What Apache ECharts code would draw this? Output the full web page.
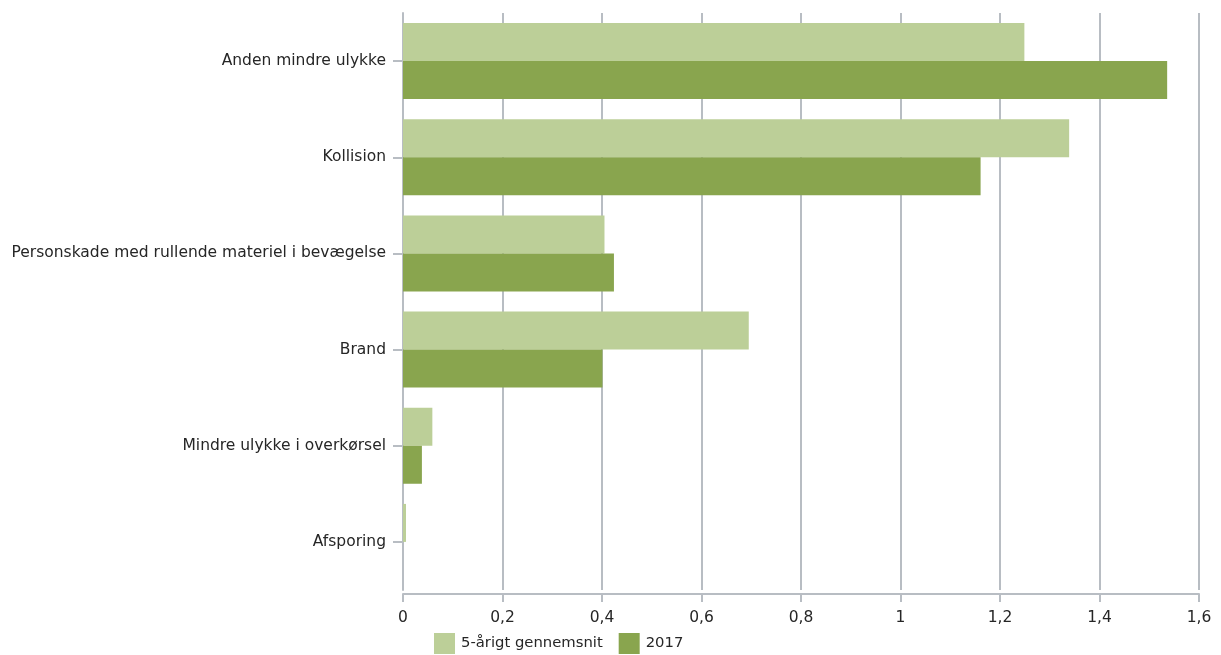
<!DOCTYPE html>
<html>
<head>
<meta charset="utf-8">
<script src="https://cdn.jsdelivr.net/npm/echarts@6/dist/echarts.min.js"></script>
<style>
  html, body { margin: 0; padding: 0; background: #ffffff; }
  #chart { width: 1221px; height: 655px; }
</style>
</head>
<body>
<div id="chart"></div>
<script>
// Accident categories (top to bottom)
var categories = [
  'Anden mindre ulykke',
  'Kollision',
  'Personskade med rullende materiel i bevægelse',
  'Brand',
  'Mindre ulykke i overkørsel',
  'Afsporing'
];
var seriesNames = ['5-årigt gennemsnit', '2017'];
// 5-year average
var avg5 = [1.249, 1.339, 0.405, 0.695, 0.059, 0.006];
// 2017
var y2017 = [1.536, 1.161, 0.424, 0.401, 0.038, 0];
var xTicks = { min: 0, max: 1.6, step: 0.2 };

var textColor = '#262626';
var lineColor = '#b8bdc3';
var font = 'DejaVu Sans';
var fontSize = 15.5;

var chart = echarts.init(document.getElementById('chart'));
chart.setOption({
  animation: false,
  textStyle: { fontFamily: font },
  grid: { left: 403, right: 22, top: 13, bottom: 65, containLabel: false },
  legend: {
    data: seriesNames,
    top: 628,
    left: 429,
    itemWidth: 21,
    itemHeight: 21,
    itemGap: 16,
    icon: 'rect',
    textStyle: { color: textColor, fontSize: 14.8, fontFamily: font, padding: [0, 0, 0, 1] }
  },
  xAxis: {
    type: 'value',
    min: xTicks.min,
    max: xTicks.max,
    interval: xTicks.step,
    offset: 4,
    axisLine: { show: true, lineStyle: { color: lineColor, width: 2 } },
    axisTick: { show: true, length: 8, lineStyle: { color: lineColor, width: 2 } },
    axisLabel: {
      color: textColor, fontSize: fontSize, margin: 16, fontFamily: font,
      formatter: function (v) { return String(Math.round(v * 10) / 10).replace('.', ','); }
    },
    splitLine: { show: true, lineStyle: { color: lineColor, width: 2 } }
  },
  yAxis: {
    type: 'category',
    data: categories,
    inverse: true,
    axisLine: { show: true, lineStyle: { color: lineColor, width: 2 } },
    axisTick: { show: true, alignWithLabel: true, length: 10, lineStyle: { color: lineColor, width: 2 } },
    axisLabel: { color: textColor, fontSize: fontSize, margin: 17, fontFamily: font }
  },
  series: [
    {
      name: seriesNames[0],
      type: 'bar',
      data: avg5,
      barWidth: 38,
      barGap: '0%',
      itemStyle: { color: '#bccf98' }
    },
    {
      name: seriesNames[1],
      type: 'bar',
      data: y2017,
      barWidth: 38,
      barGap: '0%',
      itemStyle: { color: '#89a54e' }
    }
  ]
});
</script>
</body>
</html>
